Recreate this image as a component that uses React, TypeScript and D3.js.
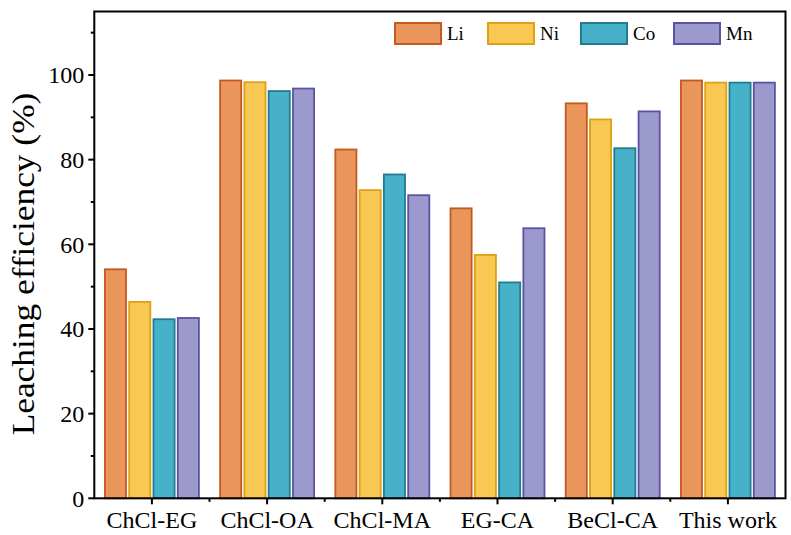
import React from "react";
import * as d3 from "d3";

const categories = ["ChCl-EG", "ChCl-OA", "ChCl-MA", "EG-CA", "BeCl-CA", "This work"];
const seriesNames = ["Li", "Ni", "Co", "Mn"];
const liValues = [54.1, 98.7, 82.4, 68.5, 93.3, 98.7];
const niValues = [46.4, 98.3, 72.8, 57.5, 89.5, 98.2];
const coValues = [42.3, 96.2, 76.5, 51.0, 82.7, 98.2];
const mnValues = [42.6, 96.8, 71.6, 63.8, 91.4, 98.2];
const yMajorTicks = [0, 20, 40, 60, 80, 100];
const yMinorTicks = [10, 30, 50, 70, 90, 110];

const fills = ["#EA955B", "#F9C853", "#47B1C9", "#9C99CD"];
const strokes = ["#C35B1F", "#DCA114", "#217C8D", "#5B52A3"];

const W = 791;
const H = 535;
const left = 94.3;
const right = 785.5;
const top = 11.5;
const bottom = 498.3;
const FONT = '"Liberation Serif", Tinos, "Times New Roman", Times, serif';

export default function App() {
  const series = [liValues, niValues, coValues, mnValues];
  const x0 = d3.scaleBand<string>().domain(categories).range([left, right]).padding(0);
  const groupW = 94;
  const x1 = d3.scaleBand<string>().domain(seriesNames).range([0, groupW]).paddingInner(0.13);
  const y = d3.scaleLinear().domain([0, 115]).range([bottom, top]);
  const boundaries = categories.slice(1).map((c) => x0(c) as number);
  const txt = { fontFamily: FONT, fill: "#000" } as React.CSSProperties;

  return (
    <svg width={W} height={H} style={{ position: "absolute", left: 0, top: 0, background: "#fff" }}>
      {categories.map((c, ci) => {
        const cx = (x0(c) as number) + x0.bandwidth() / 2;
        const gx = cx - groupW / 2;
        return seriesNames.map((s, si) => {
          const v = series[si][ci];
          return (
            <rect
              key={c + s}
              x={gx + (x1(s) as number)}
              y={y(v)}
              width={x1.bandwidth()}
              height={bottom - y(v)}
              fill={fills[si]}
              stroke={strokes[si]}
              strokeWidth={1.8}
            />
          );
        });
      })}
      <rect x={left} y={top} width={right - left} height={bottom - top} fill="none" stroke="#000" strokeWidth={2} />
      {yMajorTicks.map((t) => (
        <g key={"ym" + t}>
          <line x1={left - 6} x2={left} y1={y(t)} y2={y(t)} stroke="#000" strokeWidth={2} />
          <text x={left - 10} y={y(t)} dy="0.35em" textAnchor="end" style={{ ...txt, fontSize: 24 }}>
            {t}
          </text>
        </g>
      ))}
      {yMinorTicks.map((t) => (
        <line key={"yn" + t} x1={left - 3.5} x2={left} y1={y(t)} y2={y(t)} stroke="#000" strokeWidth={2} />
      ))}
      {categories.map((c) => {
        const cx = (x0(c) as number) + x0.bandwidth() / 2;
        return (
          <g key={"xt" + c}>
            <line x1={cx} x2={cx} y1={bottom} y2={bottom + 6} stroke="#000" strokeWidth={2} />
            <text x={cx} y={528} textAnchor="middle" style={{ ...txt, fontSize: 24 }}>
              {c}
            </text>
          </g>
        );
      })}
      {boundaries.map((b, i) => (
        <line key={"xb" + i} x1={b} x2={b} y1={bottom} y2={bottom + 3.5} stroke="#000" strokeWidth={2} />
      ))}
      <text
        transform={`translate(34, 264) rotate(-90) scale(1.14, 1)`}
        textAnchor="middle"
        style={{ ...txt, fontSize: 31 }}
      >
        Leaching efficiency (%)
      </text>
      {seriesNames.map((s, i) => {
        const lx = 395 + i * 93;
        return (
          <g key={"lg" + s}>
            <rect x={lx} y={23} width={46} height={21} fill={fills[i]} stroke={strokes[i]} strokeWidth={2} />
            <text x={lx + 52} y={40} style={{ ...txt, fontSize: 19 }}>
              {s}
            </text>
          </g>
        );
      })}
    </svg>
  );
}
